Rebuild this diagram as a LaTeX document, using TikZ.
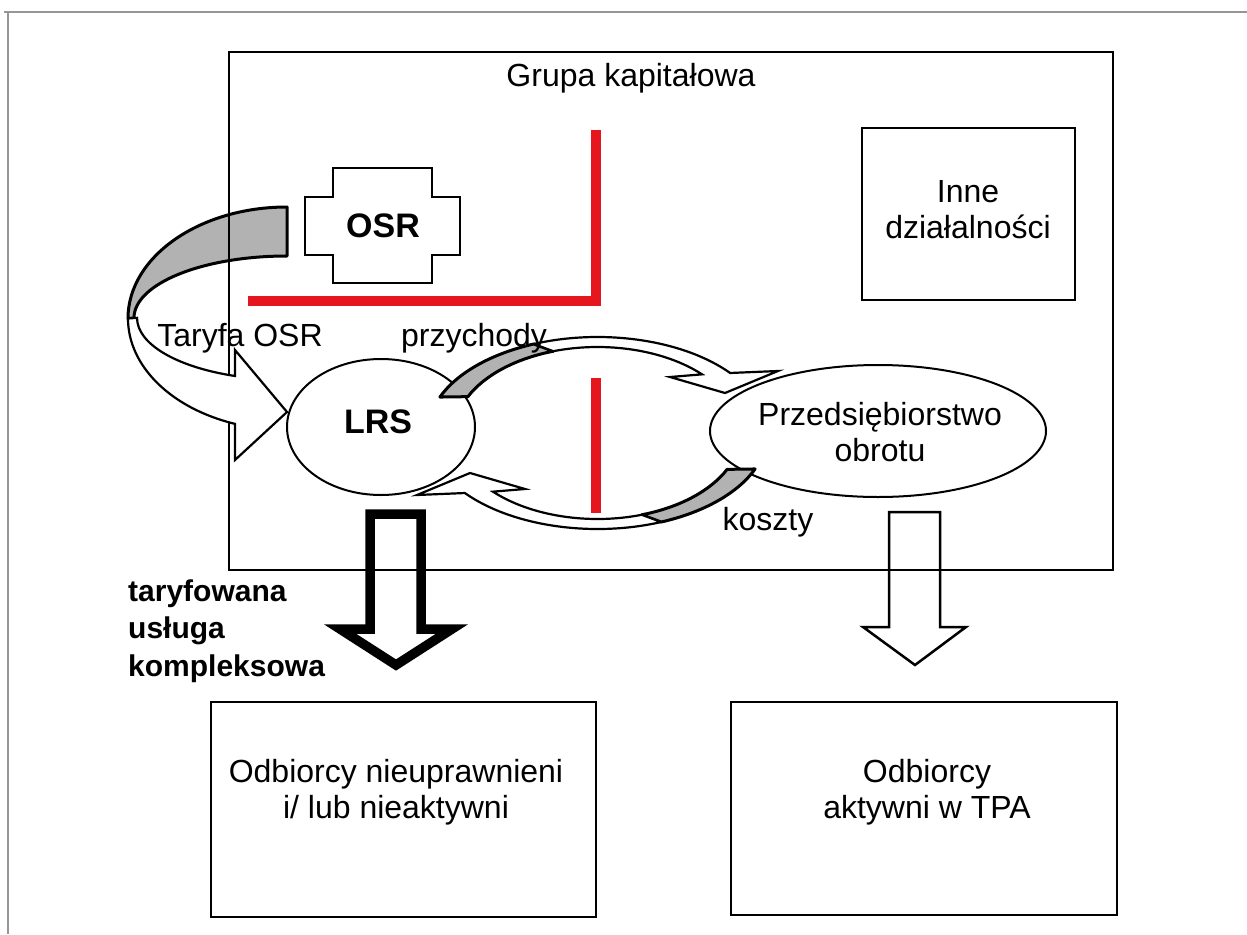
\documentclass[tikz,border=0pt]{standalone}
\usepackage{fontspec}
\setmainfont{Liberation Sans}
\usetikzlibrary{shapes.geometric}
\definecolor{cutred}{RGB}{230,22,30}
\definecolor{shade}{RGB}{178,178,178}
\definecolor{framegray}{RGB}{150,150,150}
\tikzset{
  txt/.style={font=\fontsize{32}{36}\selectfont, align=center, inner sep=0pt},
  boldtxt/.style={font=\fontsize{34}{38}\selectfont\bfseries, align=center, inner sep=0pt},
  panel/.style={draw=black, line width=2.5pt, inner sep=0pt},
  oval/.style={ellipse, draw=black, line width=2pt, inner sep=0pt},
  redbar/.style={draw=cutred, line width=10pt},
  backface/.style={draw=black, line width=3pt, fill=shade, line join=round},
  frontface/.style={draw=black, line width=2.2pt, fill=white, line join=miter},
  % curved band arrow around a point: shaded back face, white front face, head at the end
  looparrow/.pic={
    \draw[backface] (-158:170 and 96)
      arc[start angle=-158, end angle=-112, x radius=170, y radius=96]
      -- (-108:143 and 86)
      arc[start angle=-108, end angle=-155, x radius=143, y radius=86] -- cycle;
    \draw[frontface] (-112:170 and 96)
      arc[start angle=-112, end angle=-38.7, x radius=170, y radius=96]
      -- (180.5,-62) -- (127.5,-40) -- (72.5,-56)
      -- (-43:143 and 86)
      arc[start angle=-43, end angle=-108, x radius=143, y radius=86] -- cycle;
  }
}
\begin{document}
\begin{tikzpicture}[x=1pt, y=-1pt]
\useasboundingbox (0,0) rectangle (1247,934);
\fill[white] (0,0) rectangle (1247,934);

% page frame
\draw[framegray, line width=2pt] (4,12) -- (1247,12);
\draw[framegray, line width=2pt] (8,12) -- (8,934);

% tariff arrow from OSR down to LRS: back face first
\draw[backface] (287,207)
  arc[start angle=-90, end angle=-180, x radius=159, y radius=111.5]
  -- (134,318)
  arc[start angle=180, end angle=270, x radius=153, y radius=62] -- cycle;

% capital group
\node[panel, minimum width=884pt, minimum height=518pt] (grupa) at (671,311) {};
\node[txt] (grupalbl) at (631,78) {Grupa kapitałowa};

% tariff arrow: front face with head
\draw[frontface] (128,318.5)
  arc[start angle=180, end angle=109.1, x radius=159, y radius=111.5]
  -- (235,460) -- (287,412) -- (235,350) -- (235,376)
  arc[start angle=110.3, end angle=180, x radius=150, y radius=62] -- cycle;

% OSR cross
\draw[line width=2.5pt, line join=miter] (333,168) -- (432,168) -- (432,197) -- (460,197)
  -- (460,255) -- (432,255) -- (432,283) -- (333,283) -- (333,255) -- (305,255)
  -- (305,197) -- (333,197) -- cycle;
\node[boldtxt] (osr) at (383,226) {OSR};

% other activities
\node[panel, minimum width=213pt, minimum height=172pt] (inne) at (968.5,214) {};
\node[txt] (innelbl) at (968,210) {Inne\\działalności};

% separation lines
\coordinate (sepA) at (248,301);
\coordinate (sepB) at (595.5,301);
\coordinate (sepC) at (595.5,130);
\draw[redbar, line join=miter] (sepA) -- (sepB) -- (sepC);

% LRS and trading company
\node[oval, minimum width=188pt, minimum height=136pt] (lrs) at (381,427) {};
\node[boldtxt] (lrslbl) at (378,422) {LRS};
\node[oval, minimum width=336pt, minimum height=132pt] (obrot) at (878,431) {};
\node[txt] (obrotlbl) at (880,432) {Przedsiębiorstwo\\obrotu};

% revenue / cost loop
\pic (rev) at (597.5,433) {looparrow};
\pic[rotate=180] (cost) at (597.5,433) {looparrow};

\coordinate (midA) at (595.5,378);
\coordinate (midB) at (595.5,513);
\draw[redbar] (midA) -- (midB);

% delivery arrows
\draw[line width=9.5pt, line join=miter, miter limit=4]
  (370,514) -- (421,514) -- (421,629) -- (452,629) -- (396,665)
  -- (340,629) -- (370,629) -- cycle;
\draw[line width=2.5pt, line join=miter]
  (889,512) -- (940,512) -- (940,627) -- (966,627) -- (915,665)
  -- (863,627) -- (889,627) -- cycle;

% customers
\node[panel, minimum width=385pt, minimum height=215pt] (nieupr) at (403.5,809.5) {};
\node[txt] (nieuprlbl) at (396,792) {Odbiorcy nieuprawnieni\\i/ lub nieaktywni};
\node[panel, minimum width=386pt, minimum height=213pt] (tpa) at (924,808.5) {};
\node[txt] (tpalbl) at (927,792) {Odbiorcy\\aktywni w TPA};

% labels
\node[txt] (taryfa) at (240,338) {Taryfa OSR};
\node[txt] (przych) at (474,338) {przychody};
\node[txt] (koszty) at (768,522) {koszty};
\node[font=\fontsize{30}{37.5}\selectfont\bfseries, align=left, inner sep=0pt, anchor=west]
  (kompl) at (128,631) {taryfowana\\usługa\\kompleksowa};
\end{tikzpicture}
\end{document}
